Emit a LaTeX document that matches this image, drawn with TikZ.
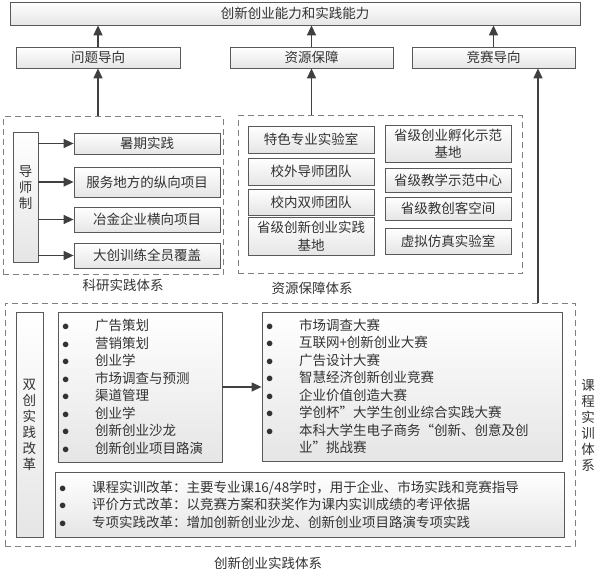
\documentclass[tikz,border=0pt]{standalone}
\usepackage{fontspec}
\setmainfont{Noto Sans CJK SC}
\usetikzlibrary{arrows.meta, shadows}
\tikzstyle{box}=[draw=black!65, line width=0.8pt, rectangle, inner sep=0pt, top color=white, bottom color=black!10, drop shadow={shadow xshift=1.2pt, shadow yshift=-1.2pt, fill=black!22}, text=black!80, font=\fontsize{13.5}{17.5}\selectfont]
\tikzstyle{dashbox}=[draw=black!50, line width=1pt, dash pattern=on 6pt off 4pt, rectangle, inner sep=0pt]
\tikzstyle{captxt}=[text=black!80, font=\fontsize{13.5}{16}\selectfont, align=center]
\tikzstyle{arr}=[-{Triangle[length=10pt,width=9pt]}, draw=black!75, line width=1.3pt]
\newcommand{\itm}{\makebox[33pt][l]{$\bullet$}}

\begin{document}
\begin{tikzpicture}[x=1pt, y=-1pt]
    \useasboundingbox (0,0) rectangle (608,588);
    \node[box, minimum width=570pt, minimum height=23pt] (top) at (295,13.5) {创新创业能力和实践能力};
    \node[box, minimum width=164pt, minimum height=21pt] (wt) at (98,57.5) {问题导向};
    \node[box, minimum width=163pt, minimum height=21pt] (zy) at (311.5,57.5) {资源保障};
    \node[box, minimum width=163pt, minimum height=21pt] (js) at (493.5,57.5) {竞赛导向};
    \draw[arr] (wt.north) -- (wt.north |- top.south);
    \draw[arr] (zy.north) -- (zy.north |- top.south);
    \draw[arr] (js.north) -- (js.north |- top.south);

    \node[dashbox, minimum width=220pt, minimum height=158pt] (kybox) at (113,196) {};
    \node[captxt] (kycap) at (123,285) {科研实践体系};
    \node[box, minimum width=25pt, minimum height=130pt] (ds) at (25.5,197) {};
    \node[captxt, text=black!80] (dstxt) at (25.5,188) {导\\师\\制};
    \node[box, minimum width=146pt, minimum height=21pt] (ky1) at (147,143.5) {暑期实践};
    \node[box, minimum width=146pt, minimum height=30pt] (ky2) at (147,182) {服务地方的纵向项目};
    \node[box, minimum width=146pt, minimum height=25pt] (ky3) at (147,219.5) {冶金企业横向项目};
    \node[box, minimum width=146pt, minimum height=25pt] (ky4) at (147,255.5) {大创训练全员覆盖};
    \foreach \k in {ky1,ky2,ky3,ky4}
        \draw[arr] (ds.east |- \k.west) -- (\k.west);
    \draw[arr] (wt.south |- kybox.north) -- (wt.south);

    \node[dashbox, minimum width=284pt, minimum height=158pt] (zybox) at (380,195) {};
    \node[captxt] (zycap) at (312,288) {资源保障体系};
    \node[box, minimum width=126pt, minimum height=27pt] (zy1) at (311,139.5) {特色专业实验室};
    \node[box, minimum width=126pt, minimum height=27pt] (zy2) at (311,171.5) {校外导师团队};
    \node[box, minimum width=126pt, minimum height=26pt] (zy3) at (311,202) {校内双师团队};
    \node[box, minimum width=126pt, minimum height=38pt, align=center] (zy4) at (311,236) {省级创新创业实践\\基地};
    \node[box, minimum width=126pt, minimum height=37pt, align=center] (zy5) at (448,143.5) {省级创业孵化示范\\基地};
    \node[box, minimum width=126pt, minimum height=24pt] (zy6) at (448,180) {省级教学示范中心};
    \node[box, minimum width=126pt, minimum height=23pt] (zy7) at (448,208.5) {省级教创客空间};
    \node[box, minimum width=126pt, minimum height=26pt] (zy8) at (448,241) {虚拟仿真实验室};
    \draw[arr] (zy.south |- zybox.north) -- (zy.south);

    \node[dashbox, minimum width=570pt, minimum height=243pt] (sjbox) at (290,424.5) {};
    \node[captxt] (sjcap) at (268,563) {创新创业实践体系};
    \node[captxt] (kccap) at (588,425) {课\\程\\实\\训\\体\\系};
    \node[box, minimum width=27pt, minimum height=225pt, align=center, font=\fontsize{13.5}{16}\selectfont] (gg) at (29.5,424.5) {双\\创\\实\\践\\改\\革};
    \node[box, minimum height=150pt, text width=156pt, inner xsep=4pt, align=left] (kc) at (140,387) {\itm 广告策划\\
        \itm 营销策划\\
        \itm 创业学\\
        \itm 市场调查与预测\\
        \itm 渠道管理\\
        \itm 创业学\\
        \itm 创新创业沙龙\\
        \itm 创新创业项目路演};
    \node[box, minimum height=149pt, text width=292pt, inner xsep=4pt, align=left] (ss) at (412,386.5) {\itm 市场调查大赛\\
        \itm 互联网+创新创业大赛\\
        \itm 广告设计大赛\\
        \itm 智慧经济创新创业竞赛\\
        \itm 企业价值创造大赛\\
        \itm 学创杯”大学生创业综合实践大赛\\
        \itm 本科大学生电子商务“创新、创意及创\\
        \hspace*{33pt}业”挑战赛};
    \node[box, minimum height=65pt, text width=501pt, inner xsep=4pt, align=left] (gk) at (309.5,504.5) {\itm 课程实训改革：主要专业课16/48学时，用于企业、市场实践和竞赛指导\\
        \itm 评价方式改革：以竞赛方案和获奖作为课内实训成绩的考评依据\\
        \itm 专项实践改革：增加创新创业沙龙、创新创业项目路演专项实践};
    \draw[arr] (kc.east) -- (ss.west |- kc.east);
    \coordinate (jsx) at (538,0);
    \draw[arr] (jsx |- sjbox.north) -- (jsx |- js.south);
\end{tikzpicture}
\end{document}
